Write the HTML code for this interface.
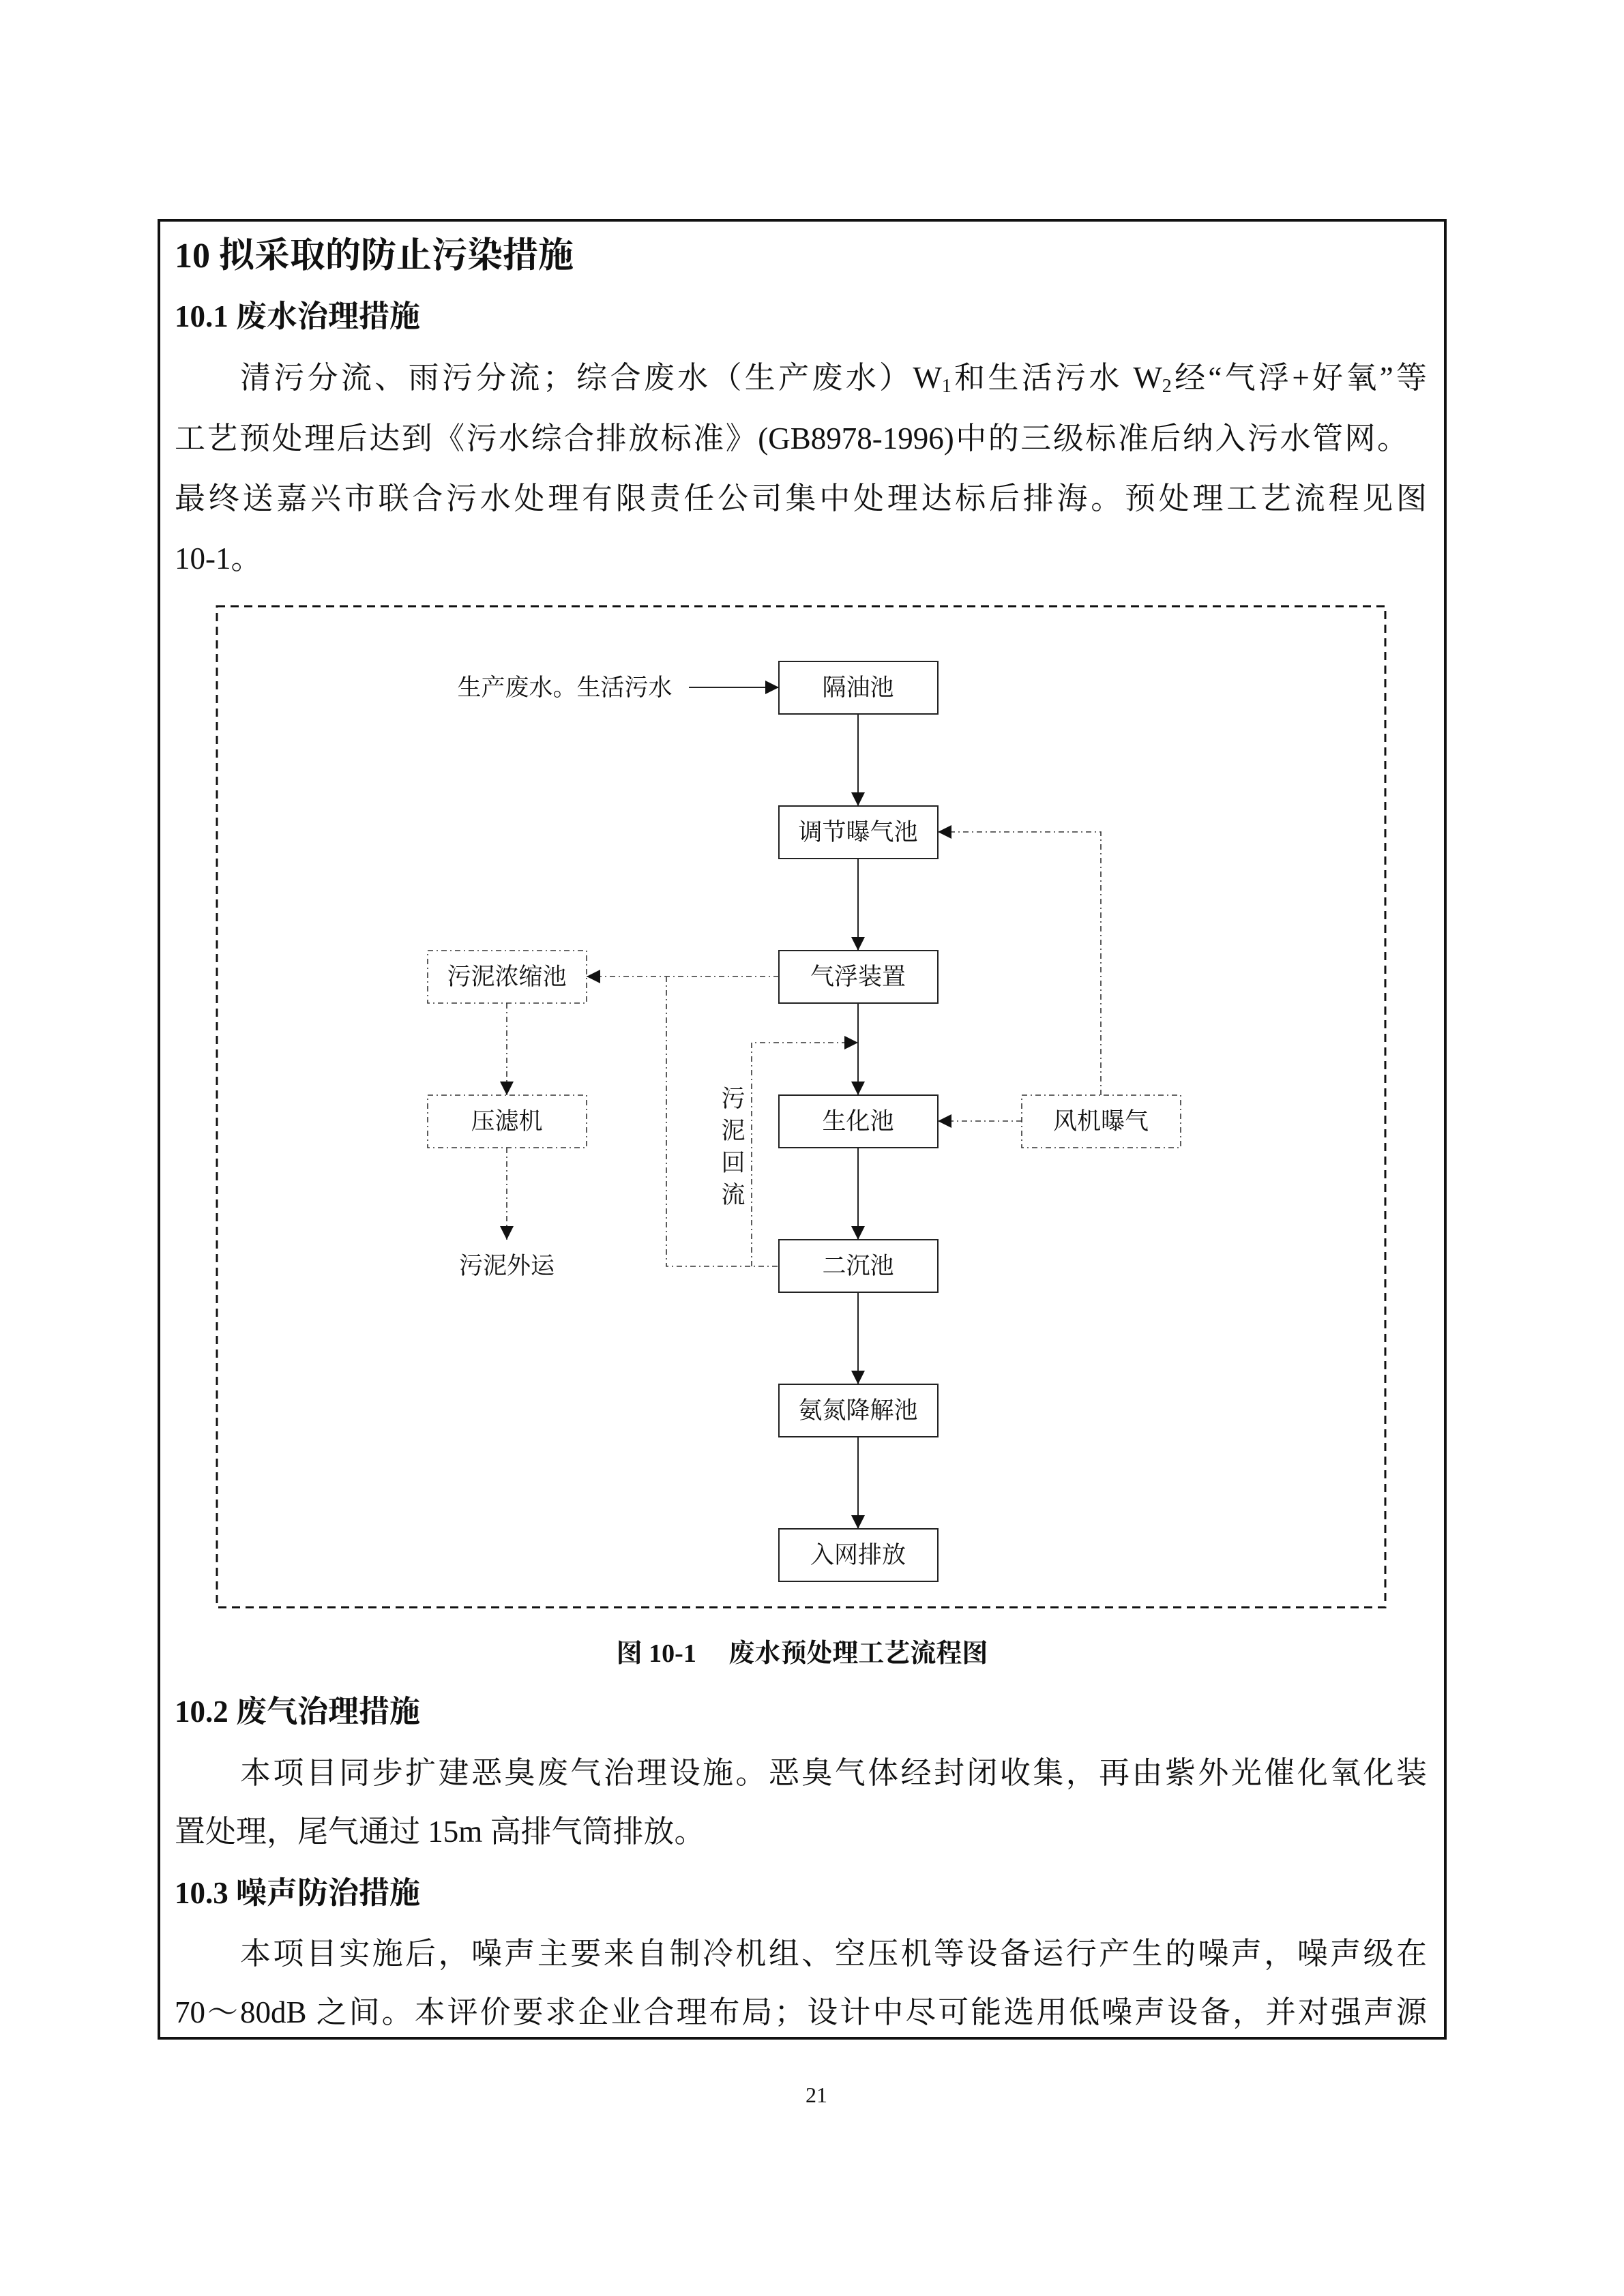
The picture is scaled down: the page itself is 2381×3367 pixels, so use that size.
<!DOCTYPE html>
<html><head><meta charset="utf-8"><style>
html,body{margin:0;padding:0;background:#fff;}
body{width:2381px;height:3367px;position:relative;overflow:hidden;font-family:"Liberation Serif","Noto Serif CJK SC",serif;color:#111;}
.frame{position:absolute;left:231px;top:321px;width:1882px;height:2662px;border:4px solid #111;}
.l{position:absolute;left:256px;width:1836px;height:88px;line-height:88px;font-size:45px;white-space:nowrap;}
.j{text-align:justify;text-align-last:justify;}
.h1{font-size:52px;font-weight:bold;}
.h2{font-size:45px;font-weight:bold;}
sub{font-size:28px;vertical-align:-6px;line-height:0;}
</style></head><body>
<div class="frame"></div>
<div class="l h1" style="top:332px">10 拟采取的防止污染措施</div>
<div class="l h2" style="top:420px">10.1 废水治理措施</div>
<div class="l j" style="top:510px;left:352px;width:1740px">清污分流、雨污分流；综合废水（生产废水）W<sub>1</sub>和生活污水 W<sub>2</sub>经“气浮+好氧”等</div>
<div class="l j" style="top:599px;width:1808px">工艺预处理后达到《污水综合排放标准》(GB8978-1996)中的三级标准后纳入污水管网。</div>
<div class="l j" style="top:687px">最终送嘉兴市联合污水处理有限责任公司集中处理达标后排海。预处理工艺流程见图</div>
<div class="l" style="top:775px">10-1。</div>

<svg style="position:absolute;left:0;top:0" width="2381" height="3367" xmlns="http://www.w3.org/2000/svg">
<defs>
<marker id="a" viewBox="0 0 10 10" refX="10" refY="5" markerWidth="20" markerHeight="20" markerUnits="userSpaceOnUse" orient="auto"><path d="M0,0 L10,5 L0,10 z" fill="#111"/></marker>
</defs>
<rect x="318" y="889" width="1713" height="1468" fill="none" stroke="#111" stroke-width="3" stroke-dasharray="12,8"/>
<g fill="none" stroke="#222" stroke-width="2">
<rect x="1142" y="970" width="233" height="77"/>
<rect x="1142" y="1182" width="233" height="77"/>
<rect x="1142" y="1394" width="233" height="77"/>
<rect x="1142" y="1606" width="233" height="77"/>
<rect x="1142" y="1818" width="233" height="77"/>
<rect x="1142" y="2030" width="233" height="77"/>
<rect x="1142" y="2242" width="233" height="77"/>
<line x1="1010" y1="1008" x2="1142" y2="1008" marker-end="url(#a)"/>
<line x1="1258" y1="1047" x2="1258" y2="1182" marker-end="url(#a)"/>
<line x1="1258" y1="1259" x2="1258" y2="1394" marker-end="url(#a)"/>
<line x1="1258" y1="1471" x2="1258" y2="1606" marker-end="url(#a)"/>
<line x1="1258" y1="1683" x2="1258" y2="1818" marker-end="url(#a)"/>
<line x1="1258" y1="1895" x2="1258" y2="2030" marker-end="url(#a)"/>
<line x1="1258" y1="2107" x2="1258" y2="2242" marker-end="url(#a)"/>
</g>
<g fill="none" stroke="#333" stroke-width="1.6" stroke-dasharray="8,5,2,5">
<rect x="627" y="1394" width="233" height="77"/>
<rect x="627" y="1606" width="233" height="77"/>
<rect x="1498" y="1606" width="233" height="77"/>
<polyline points="1614,1606 1614,1220 1375,1220" marker-end="url(#a)"/>
<line x1="1498" y1="1644" x2="1375" y2="1644" marker-end="url(#a)"/>
<line x1="1142" y1="1432" x2="860" y2="1432" marker-end="url(#a)"/>
<polyline points="977,1432 977,1857 1142,1857"/>
<polyline points="1102,1857 1102,1529 1258,1529" marker-end="url(#a)"/>
<line x1="743" y1="1471" x2="743" y2="1606" marker-end="url(#a)"/>
<line x1="743" y1="1683" x2="743" y2="1818" marker-end="url(#a)"/>
</g>
<g font-family="Liberation Serif, Noto Serif CJK SC, serif" font-size="35" fill="#111" text-anchor="middle">
<text x="828" y="1020">生产废水。生活污水</text>
<text x="1258" y="1020">隔油池</text>
<text x="1258" y="1232">调节曝气池</text>
<text x="1258" y="1444">气浮装置</text>
<text x="1258" y="1656">生化池</text>
<text x="1258" y="1868">二沉池</text>
<text x="1258" y="2080">氨氮降解池</text>
<text x="1258" y="2292">入网排放</text>
<text x="743" y="1444">污泥浓缩池</text>
<text x="743" y="1656">压滤机</text>
<text x="1614" y="1656">风机曝气</text>
<text x="743" y="1868">污泥外运</text>
<text x="1075" y="1623">污</text>
<text x="1075" y="1670">泥</text>
<text x="1075" y="1717">回</text>
<text x="1075" y="1764">流</text>
<text x="1176" y="2437" font-size="38" font-weight="bold">图 10-1　 废水预处理工艺流程图</text>
<text x="1197" y="3083" font-size="32">21</text>
</g>
</svg>

<div class="l h2" style="top:2466px">10.2 废气治理措施</div>
<div class="l j" style="top:2556px;left:352px;width:1740px">本项目同步扩建恶臭废气治理设施。恶臭气体经封闭收集，再由紫外光催化氧化装</div>
<div class="l" style="top:2642px">置处理，尾气通过 15m 高排气筒排放。</div>
<div class="l h2" style="top:2732px">10.3 噪声防治措施</div>
<div class="l j" style="top:2821px;left:352px;width:1740px">本项目实施后，噪声主要来自制冷机组、空压机等设备运行产生的噪声，噪声级在</div>
<div class="l j" style="top:2907px">70～80dB 之间。本评价要求企业合理布局；设计中尽可能选用低噪声设备，并对强声源</div>
</body></html>
